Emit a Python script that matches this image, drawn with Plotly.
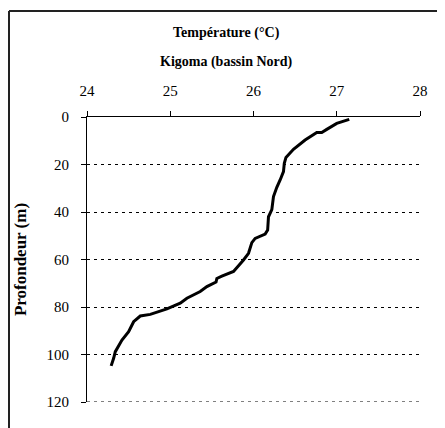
import plotly.graph_objects as go

# Temperature profile, Kigoma (bassin Nord)
temperature = [27.15, 27.00, 26.88, 26.82, 26.76, 26.62, 26.48, 26.39, 26.37, 26.36,
               26.32, 26.28, 26.24, 26.22, 26.18, 26.17, 26.14, 26.02, 25.98, 25.94,
               25.88, 25.76, 25.62, 25.56, 25.55, 25.44, 25.36, 25.20, 25.12, 24.96,
               24.76, 24.64, 24.56, 24.50, 24.42, 24.34, 24.32, 24.29]
depth = [1.0, 2.7, 5.2, 6.5, 6.5, 9.7, 13.6, 17.0, 19.5, 23.0,
         26.5, 29.6, 33.5, 39.0, 42.0, 47.6, 49.3, 51.1, 52.9, 57.4,
         60.2, 65.0, 67.0, 68.0, 69.5, 71.4, 73.5, 76.3, 78.4, 80.8,
         83.1, 83.8, 86.2, 90.4, 93.9, 98.8, 101.6, 104.8]

x_ticks = [24, 25, 26, 27, 28]
y_ticks = [0, 20, 40, 60, 80, 100, 120]

title_lines = ["Température (°C)", "Kigoma (bassin Nord)"]
y_title = "Profondeur (m)"

SERIF = "'Liberation Serif', serif"

fig = go.Figure()
fig.add_trace(go.Scatter(
    x=temperature, y=depth, mode="lines",
    line=dict(color="black", width=3),
    hoverinfo="skip", showlegend=False,
))

# The page body has an 8px default margin, so the figure is sized to fit the window.
OFF = 8
WIN_W, WIN_H = 445, 428
W, H = WIN_W - OFF, WIN_H - OFF
# Plot area in window pixels
PX0, PX1, PY0, PY1 = 87, 420, 117, 402
L, R, T, B = PX0 - OFF, WIN_W - PX1, PY0 - OFF, WIN_H - PY1
pw, ph = PX1 - PX0, PY1 - PY0

def px_to_paper_x(px):
    return (px - PX0) / pw

def px_to_paper_y(py):
    return (PY1 - py) / ph

fig.update_layout(
    width=W, height=H,
    margin=dict(l=L, r=R, t=T, b=B),
    paper_bgcolor="white", plot_bgcolor="white",
    font=dict(family=SERIF, color="black", size=15),
    showlegend=False,
    xaxis=dict(
        side="top", range=[24, 28], tickvals=x_ticks,
        showgrid=False, zeroline=False,
        showline=True, linecolor="black", linewidth=1,
        ticks="outside", ticklen=5, tickcolor="black", tickwidth=1,
        tickfont=dict(family=SERIF, size=15, color="black"),
        ticklabelstandoff=9,
    ),
    yaxis=dict(
        range=[120, 0], tickvals=y_ticks,
        showgrid=True, gridcolor="black", gridwidth=1, griddash="3px,4px",
        zeroline=False,
        showline=True, linecolor="black", linewidth=1,
        ticks="outside", ticklen=5, tickcolor="black", tickwidth=1,
        tickfont=dict(family=SERIF, size=15, color="black"),
        ticklabelstandoff=9,
        title=dict(text="<b>" + y_title + "</b>",
                   font=dict(family=SERIF, size=17, color="black"),
                   standoff=15),
    ),
)

# Bottom dashed gridline at the last tick (plotly drops the grid line at the range edge)
fig.add_shape(type="line", xref="paper", yref="y",
              x0=0, x1=1, y0=y_ticks[-1], y1=y_ticks[-1],
              line=dict(color="black", width=1, dash="3px,4px"))

# Title lines
for text, py in zip(title_lines, [33, 62]):
    fig.add_annotation(
        text="<b>" + text + "</b>", xref="paper", yref="paper",
        x=px_to_paper_x(226), y=px_to_paper_y(py),
        xanchor="center", yanchor="middle", showarrow=False,
        font=dict(family=SERIF, size=14, color="black"),
    )

# Outer frame (left and top edges)
frame_left, frame_top = 9, 11
fig.add_shape(type="line", xref="paper", yref="paper",
              x0=px_to_paper_x(frame_left), x1=px_to_paper_x(frame_left),
              y0=px_to_paper_y(frame_top), y1=px_to_paper_y(WIN_H + 5),
              line=dict(color="#222222", width=2))
fig.add_shape(type="line", xref="paper", yref="paper",
              x0=px_to_paper_x(frame_left), x1=px_to_paper_x(WIN_W + 5),
              y0=px_to_paper_y(frame_top), y1=px_to_paper_y(frame_top),
              line=dict(color="#222222", width=2))

fig.write_html("out.html")
